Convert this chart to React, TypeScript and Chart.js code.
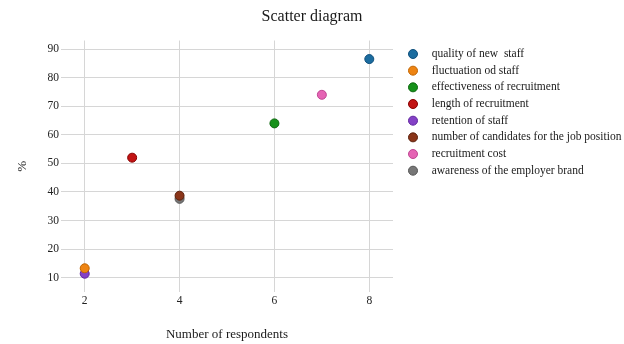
import React, { useEffect, useRef } from "react";
import { Chart, registerables } from "chart.js";

Chart.register(...registerables);

// Survey results: each indicator with number of respondents and share in %
const SERIES = [
  "quality of new  staff",
  "fluctuation od staff",
  "effectiveness of recruitment",
  "length of recruitment",
  "retention of staff",
  "number of candidates for the job position",
  "recruitment cost",
  "awareness of the employer brand",
];
const RESPONDENTS = [8, 2, 6, 3, 2, 4, 7, 4];
const PERCENT = [86.5, 13.3, 64, 52, 11.4, 38.7, 74, 37.6];

const FILLS = ["#1b6c9f", "#ee8412", "#16911a", "#c21414", "#8441c6", "#8a3519", "#e564b4", "#777777"];
const EDGES = ["#0f4f7c", "#c06400", "#0a660c", "#870000", "#60259f", "#5a1f0a", "#bf4592", "#545454"];

const X_TICKS = [2, 4, 6, 8];
const Y_TICKS = [10, 20, 30, 40, 50, 60, 70, 80, 90];

const SERIF = "'Liberation Serif', 'Times New Roman', serif";

const sideLegend = {
  id: "sideLegend",
  afterDraw(chart: any) {
    const { ctx, chartArea } = chart;
    ctx.save();
    ctx.font = `11.5px ${SERIF}`;
    ctx.textAlign = "left";
    ctx.textBaseline = "middle";
    chart.data.datasets.forEach((ds: any, i: number) => {
      const cy = chartArea.top + 13.5 + i * 16.67;
      const cx = chartArea.right + 20;
      ctx.beginPath();
      ctx.arc(cx, cy, 4.5, 0, Math.PI * 2);
      ctx.fillStyle = ds.backgroundColor;
      ctx.fill();
      ctx.lineWidth = 1;
      ctx.strokeStyle = ds.borderColor;
      ctx.stroke();
      ctx.fillStyle = "#1a1a1a";
      ctx.fillText(ds.label, chartArea.right + 38.7, cy);
    });
    ctx.restore();
  },
};

export default function App() {
  const ref = useRef<HTMLCanvasElement | null>(null);

  useEffect(() => {
    document.body.style.margin = "0";
    const canvas = ref.current;
    if (!canvas) return;
    const chart = new Chart(canvas, {
      type: "scatter",
      data: {
        datasets: SERIES.map((label, i) => ({
          label,
          data: [{ x: RESPONDENTS[i], y: PERCENT[i] }],
          backgroundColor: FILLS[i],
          borderColor: EDGES[i],
          borderWidth: 1,
          pointRadius: 4.5,
          pointHoverRadius: 4.5,
        })),
      },
      options: {
        responsive: false,
        animation: false,
        devicePixelRatio: 1,
        layout: { padding: 0 },
        plugins: {
          legend: { display: false },
          tooltip: { enabled: false },
          title: {
            display: true,
            text: "Scatter diagram",
            color: "#1a1a1a",
            font: { family: SERIF, size: 16, weight: "normal" },
            padding: { top: 7.4, bottom: 13.9 },
          },
        },
        scales: {
          x: {
            type: "linear",
            position: "bottom",
            min: 1.5,
            max: 8.5,
            afterBuildTicks: (s: any) => {
              s.ticks = X_TICKS.map((v) => ({ value: v }));
            },
            afterFit: (s: any) => {
              s.height = 52;
            },
            grid: { color: "#d6d6d6", lineWidth: 1, drawTicks: false },
            border: { display: false },
            ticks: {
              color: "#222",
              padding: 2,
              font: { family: SERIF, size: 11.5 },
            },
            title: {
              display: true,
              text: "Number of respondents",
              color: "#1a1a1a",
              font: { family: SERIF, size: 13 },
              padding: { top: 0, bottom: 1.6 },
            },
          },
          y: {
            type: "linear",
            position: "left",
            min: 5,
            max: 93,
            afterBuildTicks: (s: any) => {
              s.ticks = Y_TICKS.map((v) => ({ value: v }));
            },
            afterFit: (s: any) => {
              s.width = 61;
            },
            grid: { color: "#d6d6d6", lineWidth: 1, drawTicks: false },
            border: { display: false },
            ticks: {
              color: "#222",
              padding: 2,
              font: { family: SERIF, size: 11.5 },
            },
            title: {
              display: true,
              text: "%",
              color: "#1a1a1a",
              font: { family: SERIF, size: 13 },
              padding: { top: 15, bottom: 0 },
            },
          },
          // empty band on the right that holds the legend
          side: {
            type: "linear",
            position: "right",
            display: true,
            afterFit: (s: any) => {
              s.width = 231;
            },
            grid: { display: false },
            border: { display: false },
            ticks: { display: false },
          },
        },
      },
      plugins: [sideLegend],
    } as any);
    return () => chart.destroy();
  }, []);

  return (
    <div style={{ width: 624, height: 344, background: "#fff" }}>
      <canvas ref={ref} width={624} height={344} />
    </div>
  );
}
